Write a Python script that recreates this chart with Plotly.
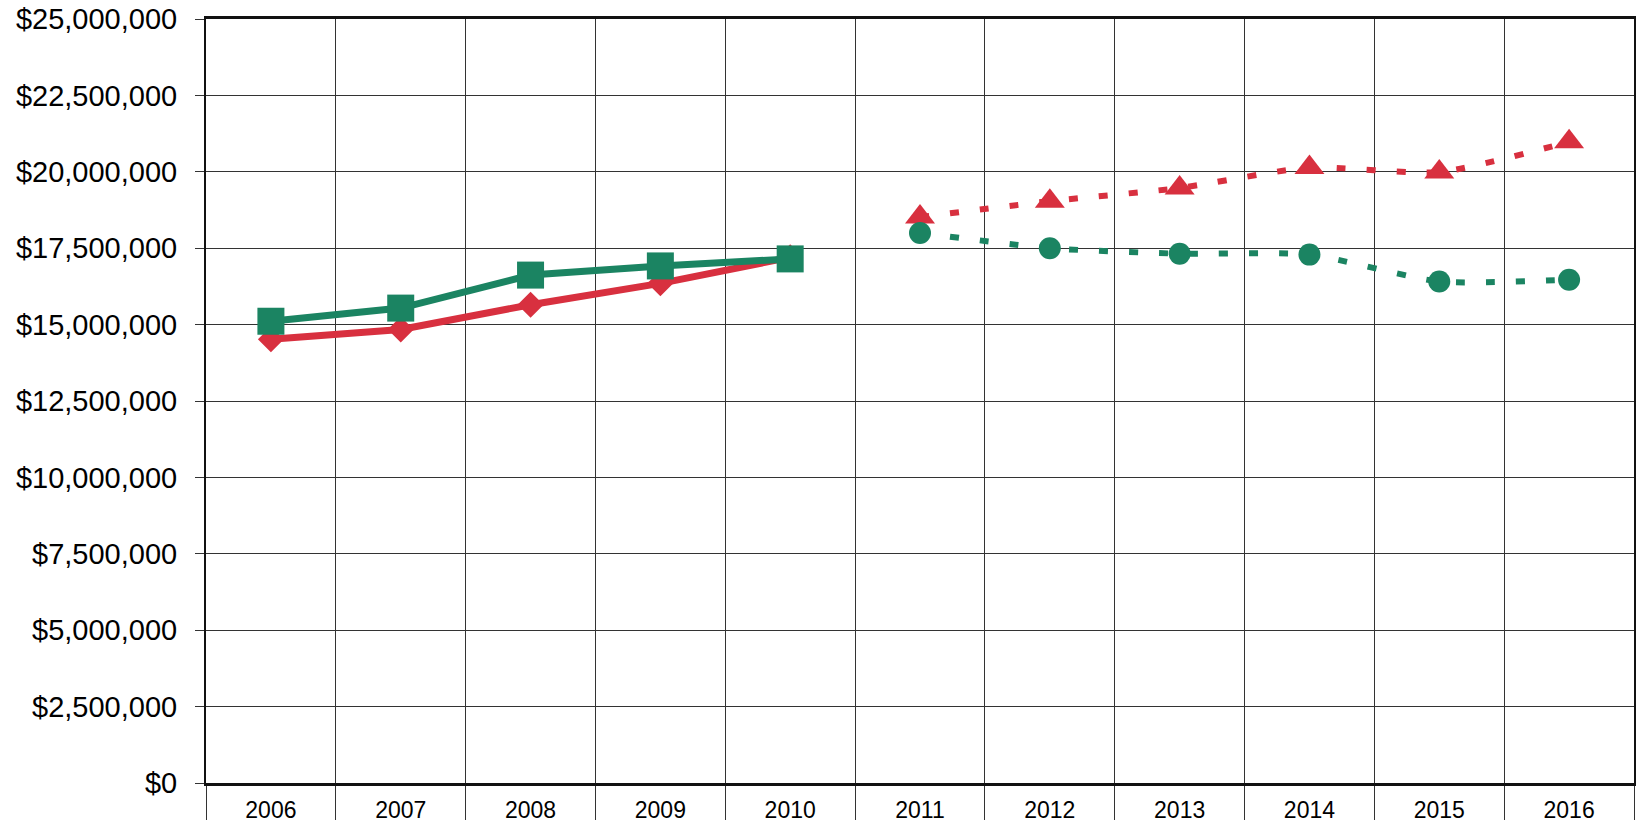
import plotly.graph_objects as go

# Years on the category axis
years = ["2006", "2007", "2008", "2009", "2010", "2011", "2012", "2013", "2014", "2015", "2016"]
actual_years = years[:5]
projected_years = years[5:]

# Actual values, 2006-2010
red_actual = [14520000, 14840000, 15650000, 16350000, 17200000]
green_actual = [15110000, 15540000, 16620000, 16920000, 17150000]

# Projected values, 2011-2016
red_projected = [18520000, 19040000, 19470000, 20140000, 19990000, 20980000]
green_projected = [18000000, 17500000, 17320000, 17290000, 16410000, 16470000]

# Y axis ticks
y_ticks = [0, 2500000, 5000000, 7500000, 10000000, 12500000,
           15000000, 17500000, 20000000, 22500000, 25000000]

RED = "#D8303F"
GREEN = "#1B8462"

x_pos = {y: i for i, y in enumerate(years)}

fig = go.Figure()

fig.add_trace(go.Scatter(
    x=[x_pos[y] for y in actual_years], y=red_actual,
    mode="lines+markers",
    line=dict(color=RED, width=7),
    marker=dict(symbol="diamond", size=20, color=RED),
    showlegend=False,
))
fig.add_trace(go.Scatter(
    x=[x_pos[y] for y in projected_years], y=red_projected,
    mode="lines+markers",
    line=dict(color=RED, width=6, dash="9px,21px", shape="spline", smoothing=0.6),
    marker=dict(symbol="triangle-up", size=26, color=RED),
    showlegend=False,
))
fig.add_trace(go.Scatter(
    x=[x_pos[y] for y in actual_years], y=green_actual,
    mode="lines+markers",
    line=dict(color=GREEN, width=7),
    marker=dict(symbol="square", size=27, color=GREEN),
    showlegend=False,
))
fig.add_trace(go.Scatter(
    x=[x_pos[y] for y in projected_years], y=green_projected,
    mode="lines+markers",
    line=dict(color=GREEN, width=6, dash="9px,21px", shape="spline", smoothing=0.6),
    marker=dict(symbol="circle", size=22, color=GREEN),
    showlegend=False,
))

fig.update_layout(
    width=1639, height=826,
    margin=dict(l=206, r=3, t=19, b=32),
    paper_bgcolor="white",
    plot_bgcolor="white",
    font=dict(family="Arial, Liberation Sans, sans-serif", color="black"),
)

fig.update_xaxes(
    range=[-0.5, len(years) - 0.5],
    tickmode="array",
    tickvals=list(range(len(years))),
    ticktext=years,
    ticks="",
    showgrid=False,
    zeroline=False,
    tickfont=dict(size=23),
    ticklabelstandoff=4,
    showline=True, linecolor="#111", linewidth=3, mirror=True,
    minor=dict(
        tickmode="array",
        tickvals=[i - 0.5 for i in range(len(years) + 1)],
        ticks="outside", ticklen=34, tickcolor="#333", tickwidth=1,
        showgrid=True, gridcolor="#333", gridwidth=1,
    ),
)

fig.update_yaxes(
    range=[0, 25000000],
    tickmode="array",
    tickvals=y_ticks,
    tickformat="$,.0f",
    ticks="outside", ticklen=9, tickcolor="#333", tickwidth=1,
    ticklabelstandoff=12,
    tickfont=dict(size=29),
    showgrid=True, gridcolor="#333", gridwidth=1,
    zeroline=False,
    showline=True, linecolor="#111", linewidth=2, mirror=True,
)

fig.write_html("out.html")
